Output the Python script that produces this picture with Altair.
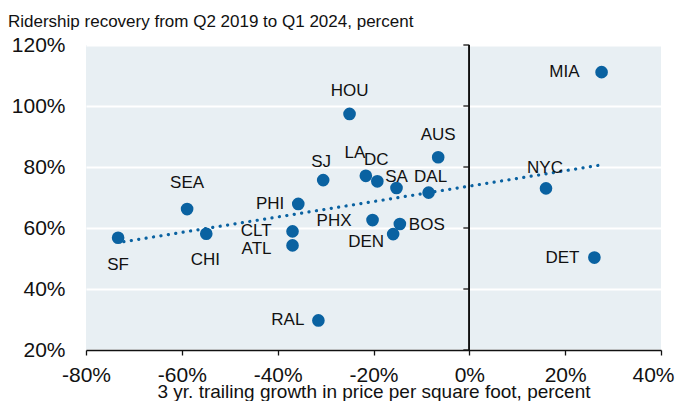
import altair as alt
import pandas as pd

# ---- data ----
cities = ["MIA", "HOU", "AUS", "LA", "DC", "SA", "DAL", "NYC", "SJ", "SEA",
          "PHI", "PHX", "CLT", "ATL", "SF", "CHI", "RAL", "BOS", "DEN", "DET"]
price_growth = [27.6, -25.0, -6.5, -21.6, -19.2, -15.2, -8.5, 16.0, -30.5, -58.9,
                -35.7, -20.2, -36.9, -36.9, -73.3, -54.9, -31.5, -14.5, -15.9, 26.1]
ridership = [111.1, 97.4, 83.2, 77.1, 75.3, 73.1, 71.6, 73.0, 75.7, 66.2,
             67.9, 62.6, 58.9, 54.3, 56.8, 58.1, 29.7, 61.3, 58.0, 50.3]

trend_x = [-72.1, 27.6]
trend_y = [55.5, 80.7]

x_ticks = [-80, -60, -40, -20, 0, 20, 40]
y_ticks = [20, 40, 60, 80, 100, 120]

subtitle = "Ridership recovery from Q2 2019 to Q1 2024, percent"
x_title = "3 yr. trailing growth in price per square foot, percent"

# label placement (align, dx, dy in pixels relative to the dot)
LABEL_PLACEMENT = {
    "MIA": ("right", -22, 0), "HOU": ("center", 0, -23), "AUS": ("center", 0, -22),
    "LA": ("center", -11, -23), "DC": ("center", -1, -21), "SA": ("center", 0, -11),
    "DAL": ("center", 2, -16), "NYC": ("center", -1, -20), "SJ": ("center", -2, -18),
    "SEA": ("center", 0, -26), "PHI": ("right", -14, 0), "PHX": ("right", -21, 1),
    "CLT": ("right", -21, 0), "ATL": ("right", -21, 4), "SF": ("center", 0, 27),
    "CHI": ("center", -1, 26), "RAL": ("right", -14, 0), "BOS": ("left", 9, 1),
    "DEN": ("right", -9, 8), "DET": ("right", -15, 0),
}

DOT = "#0a62a1"
FONT = "Liberation Sans"
INK = "#111111"

df = pd.DataFrame({"city": cities, "x": price_growth, "y": ridership})
trend = pd.DataFrame({"x": trend_x, "y": trend_y})
yt = pd.DataFrame({"y": y_ticks})

xscale = alt.Scale(domain=[-80, 40], nice=False, zero=False)
yscale = alt.Scale(domain=[20, 120], nice=False, zero=False)

x_axis = alt.Axis(values=x_ticks, labelExpr="datum.value + '%'", grid=False,
                  domainColor=INK, domainWidth=1.3, tickColor=INK,
                  tickWidth=1.3, tickSize=5, labelFontSize=21, labelPadding=9,
                  labelOffset={"condition": {"test": "datum.value == 40", "value": -8},
                               "value": 0},
                  labelColor=INK, labelFont=FONT, labelFlush=False,
                  labelOverlap=False, labelBound=False, title=x_title,
                  titleFont=FONT, titleFontSize=19, titleFontWeight="normal",
                  titleColor=INK, titlePadding=-3)
y_axis = alt.Axis(values=y_ticks, labelExpr="datum.value + '%'", grid=True,
                  gridColor="white", gridWidth=2, domain=False, ticks=False,
                  labelFontSize=21, labelPadding=21, labelColor=INK,
                  labelFont=FONT, labelFlush=False, labelOverlap=False,
                  title=None)

X = alt.X("x:Q", scale=xscale, axis=x_axis)
Y = alt.Y("y:Q", scale=yscale, axis=y_axis)

points = alt.Chart(df).mark_circle(size=160, color=DOT, opacity=1).encode(x=X, y=Y)

zero_line = alt.Chart(yt).mark_rule(color=INK, strokeWidth=1.3).encode(
    x=alt.datum(0, scale=xscale, axis=x_axis),
    y=alt.value(0), y2=alt.value(305),
)
zero_ticks = alt.Chart(yt).mark_rule(color=INK, strokeWidth=1.3).encode(
    x=alt.datum(-1.25), x2=alt.datum(0),
    y=alt.Y("y:Q", scale=yscale, axis=y_axis),
)

trend_line = alt.Chart(trend).mark_line(
    color=DOT, strokeWidth=3.2, strokeDash=[0.1, 7.4], strokeCap="round"
).encode(x=X, y=Y)

label_layers = []
for c in cities:
    align, dx, dy = LABEL_PLACEMENT[c]
    label_layers.append(
        alt.Chart(df).transform_filter(alt.datum.city == c).mark_text(
            align=align, baseline="middle", dx=dx, dy=dy, font=FONT,
            fontSize=17, color=INK
        ).encode(x=X, y=Y, text="city:N")
    )

chart = alt.layer(zero_line, zero_ticks, trend_line, points, *label_layers).properties(
    width=575, height=305,
    autosize=alt.AutoSizeParams(type="none"),
    padding={"left": 78, "top": 37, "right": 14, "bottom": 51},
    background="white",
    title=alt.TitleParams(text=subtitle, anchor="start", frame="group", dx=-78,
                          dy=12, offset=2, baseline="alphabetic", font=FONT,
                          fontSize=17, fontWeight="normal", color=INK),
).configure_view(fill="#e8eff3", strokeWidth=0)

chart.save("out.html", embed_options={"renderer": "svg", "actions": False})
